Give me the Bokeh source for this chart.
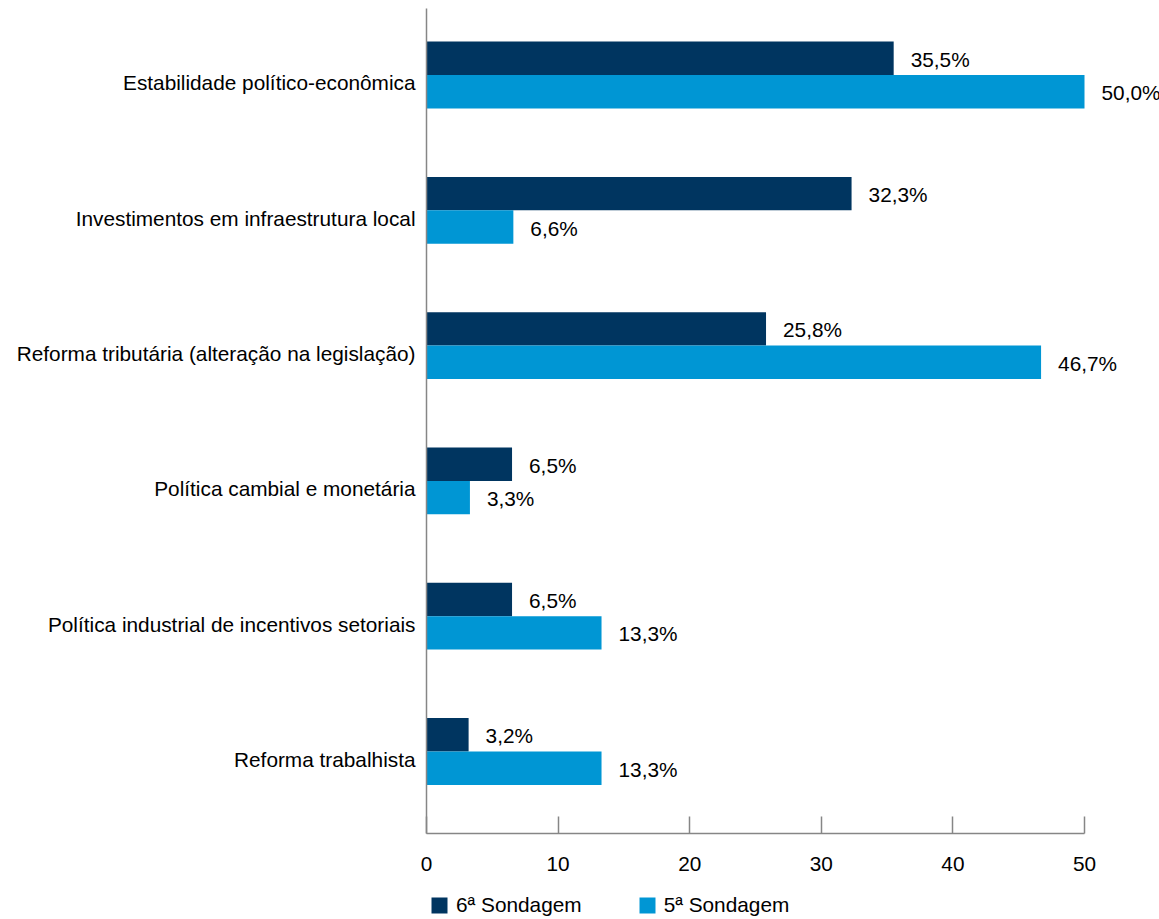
from bokeh.plotting import figure
from bokeh.models import Range1d, FixedTicker, Legend, LegendItem, CustomJSTickFormatter
from bokeh.core.properties import value
from bokeh.embed import file_html
from bokeh.resources import INLINE
import numpy as np

categories = [
    "Estabilidade político-econômica",
    "Investimentos em infraestrutura local",
    "Reforma tributária (alteração na legislação)",
    "Política cambial e monetária",
    "Política industrial de incentivos setoriais",
    "Reforma trabalhista",
]
series_names = ["6ª Sondagem", "5ª Sondagem"]
sond6 = [35.5, 32.3, 25.8, 6.5, 6.5, 3.2]
sond5 = [50.0, 6.6, 46.7, 3.3, 13.3, 13.3]
x_ticks = [0, 10, 20, 30, 40, 50]

DARK = "#003560"
LIGHT = "#0096D4"
FONT = "Liberation Sans"
FS = "20.8px"
AXIS_COL = "#868686"

idx = np.arange(len(categories))
bar_h = 0.247
y6 = idx - bar_h / 2
y5 = idx + bar_h / 2

W, H = 1159, 919
X0_PX, PX_PER_UNIT = 426, 13.16
Y_TOP, Y_AXIS = -0.4915, 5.606
Y_PX_TOP, Y_PX_PER_UNIT = 8, 135.3
y_top_canvas = Y_TOP - Y_PX_TOP / Y_PX_PER_UNIT
y_bottom_canvas = Y_TOP + (H - Y_PX_TOP) / Y_PX_PER_UNIT

p = figure(width=W, height=H, output_backend="svg", toolbar_location=None,
           x_range=Range1d(-X0_PX / PX_PER_UNIT, (W - X0_PX) / PX_PER_UNIT),
           y_range=Range1d(y_bottom_canvas, y_top_canvas),
           min_border_left=0, min_border_right=0, min_border_top=0,
           min_border_bottom=0)
p.outline_line_color = None
p.xgrid.visible = False
p.ygrid.visible = False
p.background_fill_color = "white"

r6 = p.hbar(y=y6, left=0, right=sond6, height=bar_h, fill_color=DARK, line_color=None)
r5 = p.hbar(y=y5, left=0, right=sond5, height=bar_h, fill_color=LIGHT, line_color=None)

def fmt(v):
    return f"{v:.1f}%".replace(".", ",")

p.text(x=sond6, y=y6, text=[fmt(v) for v in sond6], x_offset=17, y_offset=1,
       text_baseline="middle", text_align="left", text_color="black",
       text_font=value(FONT), text_font_size=FS)
p.text(x=sond5, y=y5, text=[fmt(v) for v in sond5], x_offset=17, y_offset=1,
       text_baseline="middle", text_align="left", text_color="black",
       text_font=value(FONT), text_font_size=FS)

# x axis drawn at the bottom of the category area
xa = p.xaxis[0]
xa.fixed_location = Y_AXIS
xa.ticker = FixedTicker(ticks=x_ticks)
xa.bounds = (0, 50)
xa.axis_line_color = AXIS_COL
xa.axis_line_width = 1.5
xa.major_tick_line_color = AXIS_COL
xa.major_tick_line_width = 1.5
xa.major_tick_in = 17
xa.major_tick_out = 0
xa.minor_tick_line_color = None
xa.major_label_standoff = 24
xa.major_label_text_font = FONT
xa.major_label_text_font_size = FS
xa.major_label_text_color = "black"

# y axis at x = 0 (category labels sit slightly below the group centre)
ya = p.yaxis[0]
ya.fixed_location = 0
ya.ticker = FixedTicker(ticks=[float(i) + 0.059 for i in idx])
ya.formatter = CustomJSTickFormatter(args=dict(labels=categories),
                                     code="return labels[Math.round(tick)] || '';")
ya.bounds = (Y_TOP, Y_AXIS)
ya.axis_line_color = AXIS_COL
ya.axis_line_width = 1.5
ya.major_tick_line_color = None
ya.major_tick_in = 0
ya.major_tick_out = 0
ya.minor_tick_line_color = None
ya.major_label_standoff = 11
ya.major_label_text_font = FONT
ya.major_label_text_font_size = FS
ya.major_label_text_color = "black"

legend = Legend(items=[LegendItem(label=series_names[0], renderers=[r6]),
                       LegendItem(label=series_names[1], renderers=[r5])],
                orientation="horizontal", location=(429, 2),
                glyph_width=20, glyph_height=20, label_standoff=7, spacing=55,
                padding=0, margin=0, border_line_color=None, background_fill_alpha=0,
                label_text_font=FONT, label_text_font_size=FS, label_text_color="black")
p.add_layout(legend, "center")

open("out.html", "w").write(file_html(p, INLINE))
